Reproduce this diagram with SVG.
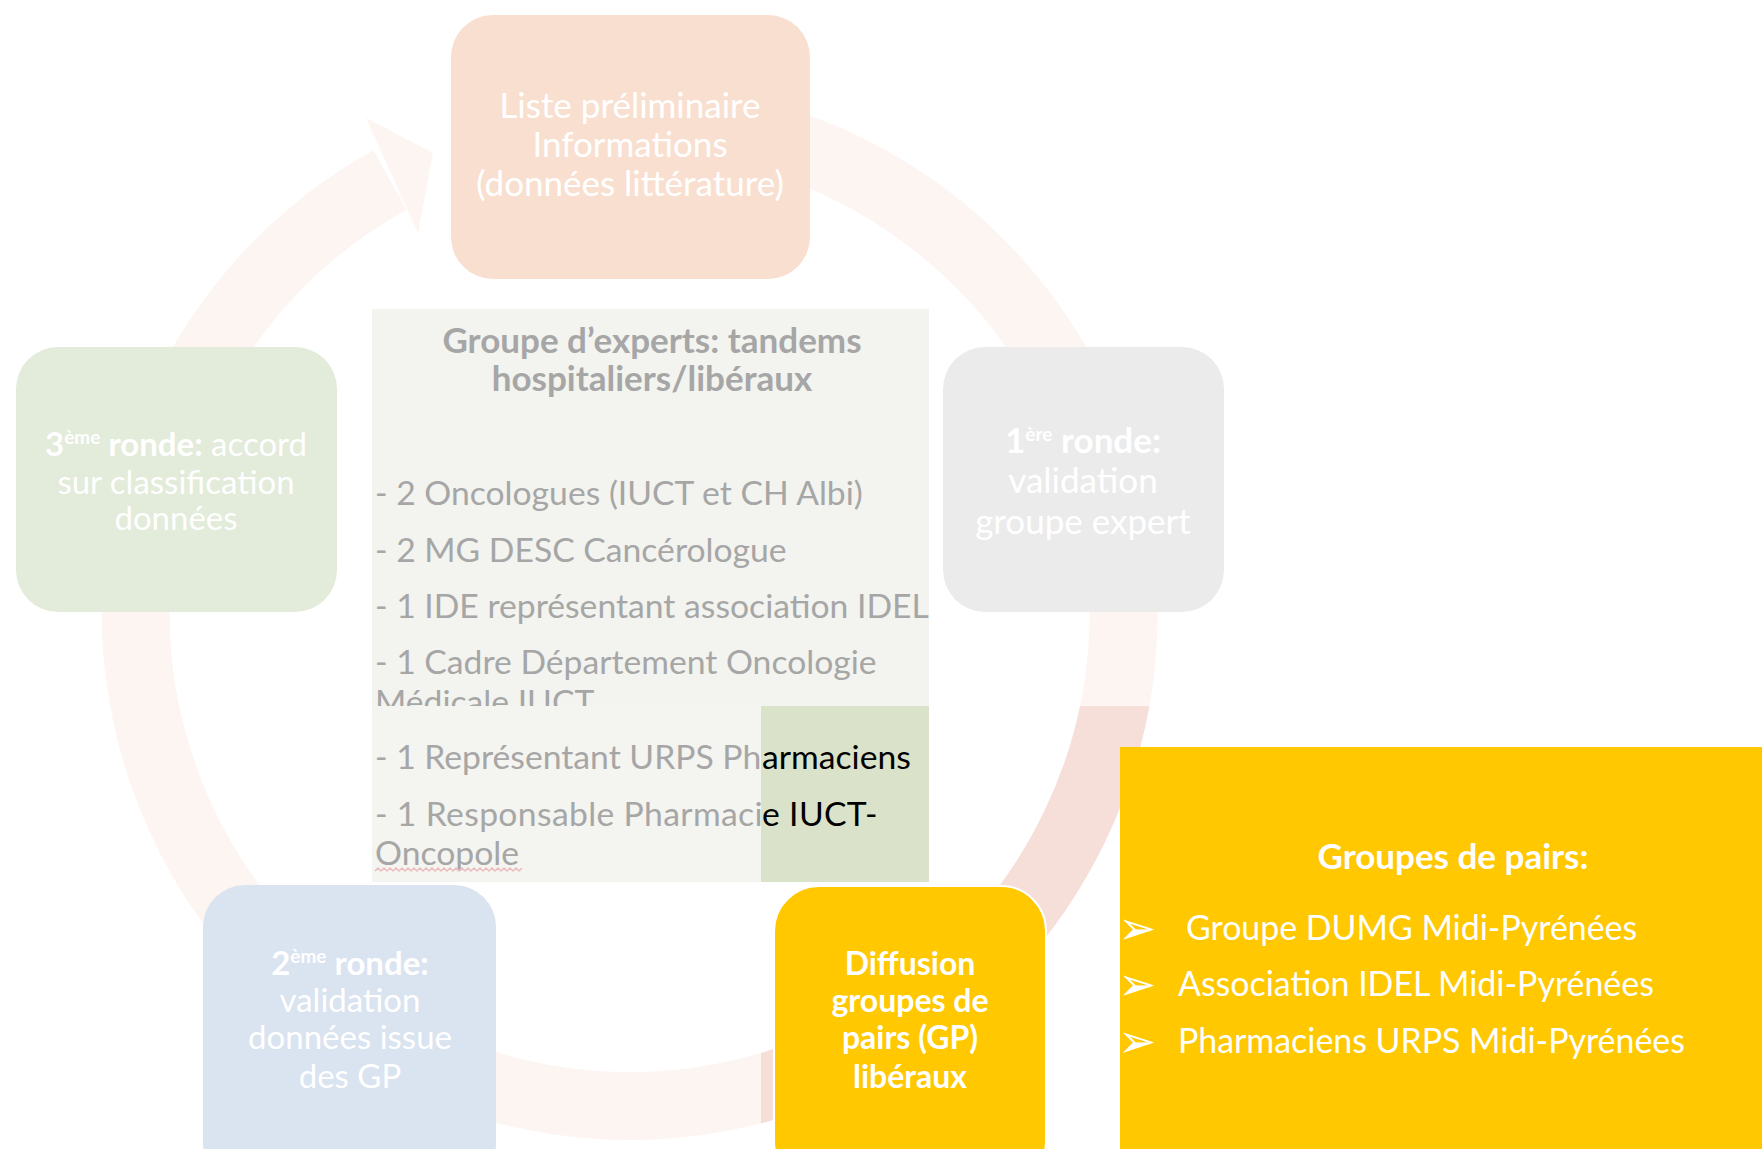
<svg xmlns="http://www.w3.org/2000/svg" width="1762" height="1149" viewBox="0 0 1762 1149">
<defs>
<style>
text{font-family:Lato,"Open Sans","DejaVu Sans",sans-serif;font-size:33px}
.w{fill:#fff;text-anchor:middle}
.b{font-weight:bold}
.g{fill:#a6a6a6;font-size:33.7px}
.k{fill:#000}
.c{text-anchor:middle}
.t{font-size:35px}
.sup{font-size:19px}
.bul{font-family:"DejaVu Sans",sans-serif;font-size:46px;fill:#fff}
.li{fill:#fff;font-size:33.9px}
</style>
<clipPath id="vivid"><rect x="761" y="706" width="1001" height="443"/></clipPath>
</defs>
<rect width="1762" height="1149" fill="#fff"/>
<g id="connectors">
<path d="M 700 123 A 494 494 0 1 1 390 180" fill="none" stroke="#FDF5F2" stroke-width="68"/>
<polygon points="366,118 418,233 433,153" fill="#FDF5F2"/>
<path d="M 700 123 A 494 494 0 1 1 390 180" fill="none" stroke="#F6DED9" stroke-width="68" clip-path="url(#vivid)"/>
</g>
<g id="node-liste">
<rect x="451" y="15" width="359" height="264" rx="42" fill="#F9DFD0"/>
<text class="w t" x="630" y="118">Liste préliminaire</text>
<text class="w t" x="630" y="157">Informations</text>
<text class="w t" x="630" y="196">(données littérature)</text>
</g>
<g id="node-ronde3">
<rect x="16" y="347" width="321" height="265" rx="42" fill="#E3EBDA"/>
<text class="w" x="176" y="456"><tspan class="b">3<tspan class="sup" dy="-12">ème</tspan><tspan dy="12"> ronde:</tspan></tspan> accord</text>
<text class="w" x="176" y="494">sur classification</text>
<text class="w" x="176" y="530">données</text>
</g>
<g id="node-ronde1">
<rect x="943" y="347" width="281" height="265" rx="42" fill="#EBEBEB"/>
<text class="w t" x="1083" y="453"><tspan class="b">1<tspan class="sup" dy="-12">ère</tspan><tspan dy="12"> ronde:</tspan></tspan></text>
<text class="w t" x="1083" y="493">validation</text>
<text class="w t" x="1083" y="534">groupe expert</text>
</g>
<g id="node-experts">
<rect x="372" y="309" width="557" height="397" fill="#F3F4EF"/>
<text class="g b c t" x="652" y="353">Groupe d’experts: tandems</text>
<text class="g b c t" x="652" y="391">hospitaliers/libéraux</text>
<text class="g" x="375" y="505">- 2 Oncologues (IUCT et CH Albi)</text>
<text class="g" x="375" y="562">- 2 MG DESC Cancérologue</text>
<text class="g" x="375" y="618">- 1 IDE représentant association IDEL</text>
<text class="g" x="375" y="674">- 1 Cadre Département Oncologie</text>
<text class="g" x="375" y="714">Médicale IUCT</text>
<rect x="372" y="706" width="389" height="176" fill="#F4F4F0"/>
<rect x="761" y="706" width="168" height="176" fill="#DAE3C9"/>
<text class="g" x="375" y="769">- 1 Représentant URPS Ph<tspan class="k" x="762">armaciens</tspan></text>
<text class="g" x="375" y="826" style="letter-spacing:0.35px">- 1 Responsable Pharmaci<tspan class="k" x="762">e IUCT-</tspan></text>
<text class="g" x="375" y="865">Oncopole</text>
<path d="M375 871 l3 -3 l3 3 l3 -3 l3 3 l3 -3 l3 3 l3 -3 l3 3 l3 -3 l3 3 l3 -3 l3 3 l3 -3 l3 3 l3 -3 l3 3 l3 -3 l3 3 l3 -3 l3 3 l3 -3 l3 3 l3 -3 l3 3 l3 -3 l3 3 l3 -3 l3 3 l3 -3 l3 3 l3 -3 l3 3 l3 -3 l3 3 l3 -3 l3 3 l3 -3 l3 3 l3 -3 l3 3 l3 -3 l3 3 l3 -3 l3 3 l3 -3 l3 3 l3 -3 l3 3 l3 -3" fill="none" stroke="#EDBDBD" stroke-width="1.5"/>
</g>
<g id="node-ronde2">
<rect x="203" y="885" width="293" height="300" rx="42" fill="#DAE3F0"/>
<text class="w" x="350" y="975"><tspan class="b">2<tspan class="sup" dy="-12">ème</tspan><tspan dy="12">  ronde:</tspan></tspan></text>
<text class="w" x="350" y="1012">validation</text>
<text class="w" x="350" y="1049">données issue</text>
<text class="w" x="350" y="1088">des GP</text>
</g>
<g id="node-diffusion">
<rect x="774" y="886" width="272" height="300" rx="45" fill="#FFC800" stroke="#fff" stroke-width="2"/>
<text class="w b" x="910" y="975" style="font-size:32px">Diffusion</text>
<text class="w b" x="910" y="1012" style="font-size:32px">groupes de</text>
<text class="w b" x="910" y="1049" style="font-size:32px">pairs (GP)</text>
<text class="w b" x="910" y="1088" style="font-size:32px">libéraux</text>
</g>
<g id="node-pairs">
<rect x="1120" y="747" width="650" height="410" fill="#FFC800"/>
<text class="w b t" x="1453" y="869">Groupes de pairs:</text>
<text class="bul" x="1118" y="944">➢</text>
<text class="li" x="1186" y="940">Groupe DUMG Midi-Pyrénées</text>
<text class="bul" x="1118" y="1000">➢</text>
<text class="li" x="1178" y="996">Association IDEL Midi-Pyrénées</text>
<text class="bul" x="1118" y="1057">➢</text>
<text class="li" x="1178" y="1053">Pharmaciens URPS Midi-Pyrénées</text>
</g>
</svg>
